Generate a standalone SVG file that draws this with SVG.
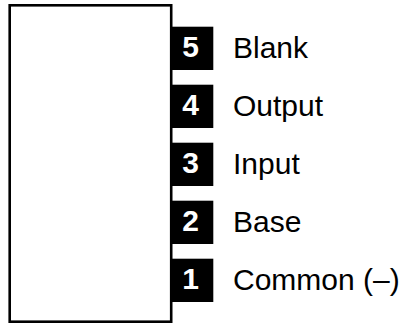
<svg xmlns="http://www.w3.org/2000/svg" width="411" height="325" viewBox="0 0 411 325">
<style>
.body{fill:#fff;stroke:#000;stroke-width:2.6}
.pin{fill:#000}
.num{font-family:"Liberation Sans",Arial,sans-serif;font-weight:bold;font-size:30px;fill:#fff;text-anchor:middle}
.lbl{font-family:"Liberation Sans",Arial,sans-serif;font-size:30px;fill:#000}
</style>
<rect width="411" height="325" fill="#fff"/>
<g id="body"><rect class="body" x="9.7" y="5.3" width="161.5" height="316.4"/></g>
<g id="pin5"><rect class="pin" x="171" y="26.7" width="42.3" height="43.3"/><text class="num" x="190.5" y="57.3">5</text><text class="lbl" x="233" y="58.3">Blank</text></g>
<g id="pin4"><rect class="pin" x="171" y="84.7" width="42.3" height="43.3"/><text class="num" x="190.5" y="115.3">4</text><text class="lbl" x="233" y="116.3">Output</text></g>
<g id="pin3"><rect class="pin" x="171" y="142.7" width="42.3" height="43.3"/><text class="num" x="190.5" y="173.3">3</text><text class="lbl" x="233" y="174.3">Input</text></g>
<g id="pin2"><rect class="pin" x="171" y="200.7" width="42.3" height="43.3"/><text class="num" x="190.5" y="231.3">2</text><text class="lbl" x="233" y="232.3">Base</text></g>
<g id="pin1"><rect class="pin" x="171" y="258.7" width="42.3" height="43.3"/><text class="num" x="190.5" y="289.3">1</text><text class="lbl" x="233" y="290.3">Common (–)</text></g>
<g id="connectors"/>
</svg>
